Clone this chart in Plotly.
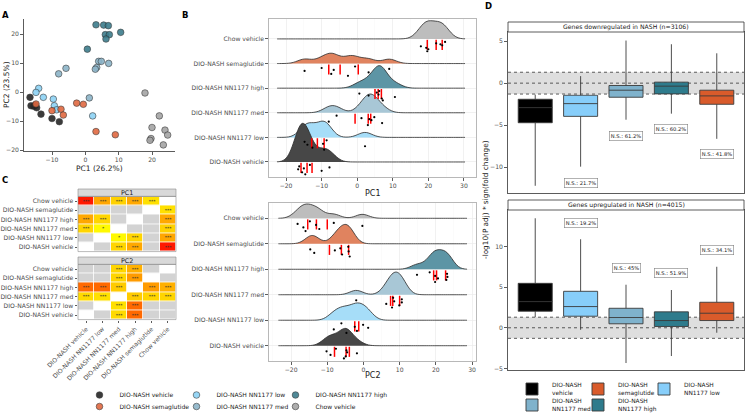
import plotly.graph_objects as go

W, H = 745, 414
def px(x): return x / W
def py(y): return 1 - y / H

GROUPS = ["DIO-NASH vehicle", "DIO-NASH NN1177 low", "DIO-NASH NN1177 med",
          "DIO-NASH NN1177 high", "DIO-NASH semaglutide", "Chow vehicle"]

# ---------------- Panel A / B data: PCA scores per group ----------------
pc1_vehicle = [-16.6, -16.3, -15.5, -15.0, -14.6, -13.3, -10.0, -7.8]
pc2_vehicle = [-1.8, -4.7, -4.9, -4.5, -5.4, -7.6, -9.1, -10.2]
pc1_low = [-14.0, -14.8, -12.6, -9.6, -9.3, -8.6, 2.2]
pc2_low = [1.3, -0.1, -1.8, -2.4, -4.7, -6.1, -8.2]
pc1_med = [4.0, 4.8, 7.0, 3.4, 3.0, -5.8, -8.0, 1.2]
pc2_med = [10.6, 10.6, 9.9, 8.5, 7.9, 8.2, 6.3, -2.0]
pc1_high = [3.2, 5.5, 6.9, 6.0, 7.2, 6.2, 10.6, 0.6]
pc2_high = [23.2, 23.1, 22.9, 19.8, 19.8, 18.3, 20.6, 14.8]
pc1_sema = [-14.8, -10.0, -7.3, -6.6, -2.6, -0.6, 3.2, 9.0]
pc2_sema = [-4.1, -6.4, -5.9, -7.9, -3.8, -4.2, -13.6, -14.7]
pc1_chow = [17.9, 22.2, 20.0, 23.9, 19.7, 24.7, 19.4, 23.4]
pc2_chow = [-0.3, -8.2, -12.2, -13.1, -16.0, -14.8, -16.6, -18.2]

# red tick marks under the ridges
red_pc1_vehicle = [-15.8, -14.1, -12.7]
red_pc1_low = [-12.8, -11.2, -9.3]
red_pc1_med = [-0.6, 3.1, 3.8]
red_pc1_high = [5.0, 5.9, 6.8]
red_pc1_sema = [-8.0, -4.8, 0.3]
red_pc1_chow = [19.7, 22.2, 23.9]
red_pc2_vehicle = [-8.0, -4.8, -3.9]
red_pc2_low = [-2.4, -1.3]
red_pc2_med = [7.5, 8.1, 10.0]
red_pc2_high = [19.4, 20.2, 22.7]
red_pc2_sema = [-9.4, -6.1, -4.1]
red_pc2_chow = [-15.4, -13.0, -10.0]

# ---------------- Panel C: pairwise significance ----------------
pairs = [(0, 1), (0, 2), (0, 3), (0, 4), (0, 5), (1, 2), (1, 3), (1, 4), (1, 5),
         (2, 3), (2, 4), (2, 5), (3, 4), (3, 5), (4, 5)]
pc1_score = [None, 0.20, 0.42, None, 0.92, 0.03, 0.20, None, 0.43, None, None, 0.22, None, 0.42, 0.15]
pc1_stars = ["", "***", "***", "", "***", "*", "***", "", "***", "", "", "***", "", "***", "***"]
pc2_score = [None, 0.18, 0.65, None, None, 0.15, 0.65, None, None, 0.25, 0.20, 0.20, 0.48, 0.38, None]
pc2_stars = ["", "***", "***", "", "", "***", "***", "", "", "***", "***", "***", "***", "***", ""]

# ---------------- Panel D: box statistics ----------------
D_LEG = ["DIO-NASH<br>vehicle", "DIO-NASH<br>NN1177 low", "DIO-NASH<br>NN1177 med",
         "DIO-NASH<br>NN1177 high", "DIO-NASH<br>semaglutide"]
down_lower = [-12.24, -9.96, -4.36, -3.64, -6.64]
down_q1 = [-4.72, -3.96, -1.68, -1.28, -2.52]
down_med = [-2.92, -2.44, -0.84, -0.36, -1.52]
down_q3 = [-1.92, -1.44, -0.28, 0.12, -0.84]
down_upper = [-1.36, 0.84, 5.08, 4.64, 3.56]
up_lower = [1.30, -0.25, -4.34, -3.48, -0.61]
up_q1 = [2.04, 1.42, 0.49, 0.16, 0.89]
up_med = [3.22, 2.61, 1.26, 0.89, 1.79]
up_q3 = [5.47, 4.49, 2.40, 1.96, 3.14]
up_upper = [13.48, 10.9, 5.3, 4.65, 7.51]
down_ns = ["", "N.S.: 21.7%", "N.S.: 61.2%", "N.S.: 60.2%", "N.S.: 41.8%"]
down_ns_y = [None, -11.85, -6.3, -5.45, -8.5]
up_ns = ["", "N.S.: 19.2%", "N.S.: 45%", "N.S.: 51.9%", "N.S.: 34.1%"]
up_ns_y = [None, 12.87, 7.35, 6.69, 9.6]
sig_threshold = 1.301

# ---------------- styles ----------------
PT_COL = ["#262626", "#8cd2f5", "#8cb4c8", "#3c7d8c", "#e06941", "#a5a5a5"]
RIDGE_COL = ["#474747", "#a6ddf8", "#a8c7d6", "#5d95a5", "#e0835f", "#bdbdbd"]
BOX_COL = ["#000000", "#87cefa", "#7fb2cc", "#2e7b8c", "#d95b2b"]
ridge_peak_pc1 = [1.57, 0.66, 0.76, 0.91, 0.42, 0.74]   # in row units
ridge_peak_pc2 = [0.68, 0.68, 0.89, 0.77, 0.76, 0.56]
JIT = [0.30, 0.18, 0.42, 0.26, 0.50, 0.12, 0.36, 0.22]
FONT = "DejaVu Sans"
TXT = "#4d4d4d"

PC1 = [pc1_vehicle, pc1_low, pc1_med, pc1_high, pc1_sema, pc1_chow]
PC2 = [pc2_vehicle, pc2_low, pc2_med, pc2_high, pc2_sema, pc2_chow]
RED1 = [red_pc1_vehicle, red_pc1_low, red_pc1_med, red_pc1_high, red_pc1_sema, red_pc1_chow]
RED2 = [red_pc2_vehicle, red_pc2_low, red_pc2_med, red_pc2_high, red_pc2_sema, red_pc2_chow]

fig = go.Figure()

# ---------------- A: scatter ----------------
A_LEG = {0: ("legend", 1, 64), 1: ("legend", 2, 66), 3: ("legend", 3, 76),
         4: ("legend2", 1, 64), 2: ("legend2", 2, 66), 5: ("legend2", 3, 76)}
for g in range(6):
    lg, rk, lw = A_LEG[g]
    fig.add_trace(go.Scatter(
        x=PC1[g], y=PC2[g], mode="markers", name=GROUPS[g],
        marker=dict(size=6.6, color=PT_COL[g], opacity=0.9,
                    line=dict(color="#2b2b2b", width=0.6)),
        xaxis="x", yaxis="y", hoverinfo="skip",
        legend=lg, legendrank=rk, legendwidth=lw))

# ---------------- C: heatmaps ----------------
def build(scores, stars):
    Z = [[-1.5 if i == j else -0.5 for j in range(6)] for i in range(6)]
    T = [["" for _ in range(6)] for _ in range(6)]
    for (i, j), s, t in zip(pairs, scores, stars):
        if s is not None:
            Z[i][j] = Z[j][i] = s
            T[i][j] = T[j][i] = t
    return Z, T

CS = [[0, "#ffffff"], [0.333, "#ffffff"], [0.334, "#d3d3d3"], [0.666, "#d3d3d3"],
      [0.667, "#ffff00"], [0.83, "#ff9900"], [1, "#ff0000"]]
for (scores, stars, xa, ya) in [(pc1_score, pc1_stars, "x2", "y2"), (pc2_score, pc2_stars, "x3", "y3")]:
    Z, T = build(scores, stars)
    fig.add_trace(go.Heatmap(
        x=GROUPS, y=GROUPS, z=Z, text=T, texttemplate="%{text}",
        textfont=dict(size=4.5, color="#333333", family=FONT),
        colorscale=CS, zmin=-2, zmax=1, showscale=False, xgap=0.8, ygap=0.8,
        xaxis=xa, yaxis=ya, hoverinfo="skip"))

# ---------------- B: ridgelines ----------------
ridge_specs = [(PC1, RED1, ridge_peak_pc1, "x4", "y4", 1.95, [-22.5, 30.3]),
               (PC2, RED2, ridge_peak_pc2, "x5", "y5", 1.78, [-23.5, 28.6])]
for (PCS, REDS, peaks, xa, ya, bw, span) in ridge_specs:
    for g in reversed(range(6)):
        base = g + 1
        fig.add_trace(go.Violin(
            x=PCS[g], y=[base] * len(PCS[g]), orientation="h", side="positive",
            width=2 * peaks[g], bandwidth=bw, spanmode="manual", span=span,
            points=False, fillcolor=RIDGE_COL[g], line=dict(color="#2b2b2b", width=0.8),
            scalemode="width", scalegroup=xa + str(g), showlegend=False,
            hoverinfo="skip", xaxis=xa, yaxis=ya))
    for g in range(6):
        base = g + 1
        fig.add_trace(go.Scatter(
            x=REDS[g], y=[base - 0.24] * len(REDS[g]), mode="markers",
            marker=dict(symbol="line-ns", size=7.2, color="red",
                        line=dict(color="red", width=1.5)),
            showlegend=False, hoverinfo="skip", xaxis=xa, yaxis=ya))
        fig.add_trace(go.Scatter(
            x=PCS[g], y=[base - JIT[k % len(JIT)] for k in range(len(PCS[g]))],
            mode="markers", marker=dict(size=2.2, color="black"),
            showlegend=False, hoverinfo="skip", xaxis=xa, yaxis=ya))

# ---------------- D: boxplots ----------------
D_LEGEND = {0: ("legend3", 1, 33), 4: ("legend3", 2, 33), 1: ("legend3", 3, 40),
            2: ("legend4", 1, 33), 3: ("legend4", 2, 40)}
for (lo, q1, md, q3, hi, xa, ya, leg) in [
        (down_lower, down_q1, down_med, down_q3, down_upper, "x6", "y6", True),
        (up_lower, up_q1, up_med, up_q3, up_upper, "x7", "y7", False)]:
    for k in range(5):
        lg, rk, lw = D_LEGEND[k]
        fig.add_trace(go.Box(
            x=[k + 1], q1=[q1[k]], median=[md[k]], q3=[q3[k]],
            lowerfence=[lo[k]], upperfence=[hi[k]], width=0.75,
            fillcolor=BOX_COL[k], line=dict(color="#3a3a3a", width=0.9),
            whiskerwidth=0, boxpoints=False, name=D_LEG[k],
            showlegend=leg, legend=lg, legendrank=rk, legendwidth=lw,
            xaxis=xa, yaxis=ya, hoverinfo="skip"))

# ---------------- axes ----------------
tickf = dict(family=FONT, size=6.1, color=TXT)
def lin_axis(**kw):
    d = dict(ticks="outside", ticklen=3, tickcolor="#333333", tickwidth=0.8,
             tickfont=tickf, zeroline=False, showgrid=False, automargin=False)
    d.update(kw)
    return d

layout = dict(
    width=W, height=H, margin=dict(l=0, r=0, t=0, b=0, autoexpand=False),
    paper_bgcolor="white", plot_bgcolor="white",
    font=dict(family=FONT, size=6.2, color=TXT),
    violinmode="overlay", boxmode="overlay", hovermode=False,
)
# A
layout["xaxis"] = lin_axis(domain=[px(24), px(175)], range=[-18.4, 26.9], anchor="y",
                           tickvals=[-10, 0, 10, 20], showline=True, linecolor="#333333", linewidth=0.8)
layout["yaxis"] = lin_axis(domain=[py(151), py(19)], range=[-20.3, 25.2], anchor="x",
                           tickvals=[-20, -10, 0, 10, 20], showline=True, linecolor="#333333", linewidth=0.8)
# C
cat_common = dict(type="category", categoryorder="array", categoryarray=GROUPS,
                  tickfont=tickf, showgrid=False, zeroline=False, automargin=False)
layout["xaxis2"] = dict(cat_common, domain=[px(78), px(176)], anchor="y2", showticklabels=False, ticks="")
layout["yaxis2"] = dict(cat_common, domain=[py(251.6), py(196.4)], anchor="x2",
                        ticks="outside", ticklen=2.5, tickcolor="#333333", tickwidth=0.8)
layout["xaxis3"] = dict(cat_common, domain=[px(78), px(176)], anchor="y3", tickangle=-45,
                        ticks="outside", ticklen=2.5, tickcolor="#333333", tickwidth=0.8)
layout["yaxis3"] = dict(cat_common, domain=[py(319.6), py(264.4)], anchor="x3",
                        ticks="outside", ticklen=2.5, tickcolor="#333333", tickwidth=0.8)
# B
for (xa, ya, ydom, xr, yr) in [("xaxis4", "yaxis4", [py(177), py(19)], [-24.8, 33.4], [0.39, 6.81]),
                                ("xaxis5", "yaxis5", [py(361), py(203)], [-26.1, 31.1], [0.4, 6.6])]:
    layout[xa] = lin_axis(domain=[px(269), px(476)], range=xr, anchor=ya.replace("axis", ""),
                          tickvals=[-20, -10, 0, 10, 20, 30], showgrid=True, gridcolor="#ebebeb",
                          gridwidth=0.7, showline=True, mirror=True, linecolor="#9a9a9a", linewidth=0.7,
                          minor=dict(tickvals=[-25, -15, -5, 5, 15, 25], showgrid=True,
                                     gridcolor="#f4f4f4", gridwidth=0.4))
    layout[ya] = lin_axis(domain=ydom, range=yr, anchor=xa.replace("axis", ""),
                          tickvals=[1, 2, 3, 4, 5, 6], ticktext=GROUPS, showgrid=True,
                          gridcolor="#ebebeb", gridwidth=0.7, showline=True, mirror=True,
                          linecolor="#9a9a9a", linewidth=0.7)
# D
for (xa, ya, ydom, yr, tv) in [("xaxis6", "yaxis6", [py(193), py(32)], [-13.1, 6.1], [-10, -5, 0, 5]),
                                ("xaxis7", "yaxis7", [py(370), py(210)], [-5.2, 14.5], [-5, 0, 5, 10])]:
    layout[xa] = dict(domain=[px(508), px(744)], range=[0.4, 5.6], anchor=ya.replace("axis", ""),
                      showticklabels=False, ticks="", showgrid=False, zeroline=False, automargin=False,
                      showline=True, mirror=True, linecolor="#333333", linewidth=0.8)
    layout[ya] = lin_axis(domain=ydom, range=yr, anchor=xa.replace("axis", ""), tickvals=tv,
                          showline=True, mirror=True, linecolor="#333333", linewidth=0.8)

# legends
def leg(x, y, size):
    return dict(orientation="h", x=px(x), xanchor="left", y=py(y), yanchor="middle",
                entrywidthmode="pixels", indentation=-12, itemwidth=30,
                font=dict(family=FONT, size=size, color="#1a1a1a"),
                bgcolor="rgba(0,0,0,0)", traceorder="normal", valign="middle")
layout["legend"] = leg(91.5, 395, 6.0)
layout["legend2"] = leg(91.5, 406.5, 6.0)
layout["legend3"] = leg(524, 389, 5.9)
layout["legend4"] = leg(524, 405, 5.9)

shapes = []
ann = []
def text(x, y, s, size=6.2, color="#1a1a1a", bold=False, angle=0, xanchor="center"):
    ann.append(dict(x=px(x), y=py(y), xref="paper", yref="paper", text=("<b>%s</b>" % s) if bold else s,
                    showarrow=False, font=dict(family=FONT, size=size, color=color),
                    textangle=angle, xanchor=xanchor, yanchor="middle"))

# panel letters
text(5, 14.5, "A", 8.5, "black", True)
text(185, 15, "B", 8.5, "black", True)
text(5, 180.5, "C", 8.5, "black", True)
text(488, 6, "D", 8.5, "black", True)
# axis titles
text(99.5, 168, "PC1 (26.2%)", 7.5)
text(6, 85, "PC2 (23.5%)", 7.5, angle=-90)
text(372.5, 193, "PC1", 8)
text(372.5, 375, "PC2", 8)
text(486, 200, "-log10(P adj) * sign(fold change)", 7.3, angle=-90)

# heatmap strips & borders
for (y0, y1, lab, ax) in [(189, 196.4, "PC1", "2"), (257, 264.4, "PC2", "3")]:
    shapes.append(dict(type="rect", xref="paper", yref="paper", x0=px(78), x1=px(176), y0=py(y1), y1=py(y0),
                       fillcolor="#d9d9d9", line=dict(color="#8c8c8c", width=0.6)))
    text(127, (y0 + y1) / 2, lab, 6.4, "#1a1a1a")
    shapes.append(dict(type="rect", xref="x%s domain" % ax, yref="y%s domain" % ax, x0=0, x1=1, y0=0, y1=1,
                       line=dict(color="#8c8c8c", width=0.6)))

# D strips
for (y0, y1, lab) in [(22, 32, "Genes downregulated in NASH (n=3106)"),
                      (200, 210, "Genes upregulated in NASH (n=4015)")]:
    shapes.append(dict(type="rect", xref="paper", yref="paper", x0=px(508), x1=px(744), y0=py(y1), y1=py(y0),
                       fillcolor="white", line=dict(color="#333333", width=0.8)))
    text(626, (y0 + y1) / 2, lab, 6.15, "#1a1a1a")

# D band and dotted lines
for (xa, ya) in [("x6", "y6"), ("x7", "y7")]:
    shapes.append(dict(type="rect", xref=xa + " domain", yref=ya, x0=0, x1=1,
                       y0=-sig_threshold, y1=sig_threshold, fillcolor="#dedede",
                       line=dict(width=0), layer="below"))
    for yv in (-sig_threshold, 0, sig_threshold):
        shapes.append(dict(type="line", xref=xa + " domain", yref=ya, x0=0, x1=1, y0=yv, y1=yv,
                           line=dict(color="#333333", width=0.8, dash="dot"), layer="below"))

# N.S. labels
for (labels, ys, xa, ya) in [(down_ns, down_ns_y, "x6", "y6"), (up_ns, up_ns_y, "x7", "y7")]:
    for k in range(5):
        if labels[k]:
            ann.append(dict(x=k + 1, y=ys[k], xref=xa, yref=ya, text=labels[k], showarrow=False,
                            font=dict(family=FONT, size=5.2, color="#1a1a1a"),
                            bordercolor="#7f7f7f", borderwidth=0.6, borderpad=1.2, bgcolor="white"))

layout["shapes"] = shapes
layout["annotations"] = ann
fig.update_layout(**layout)
fig.write_html("out.html", config={"displayModeBar": False, "staticPlot": True},
               post_script="document.body.style.margin='0px';")
